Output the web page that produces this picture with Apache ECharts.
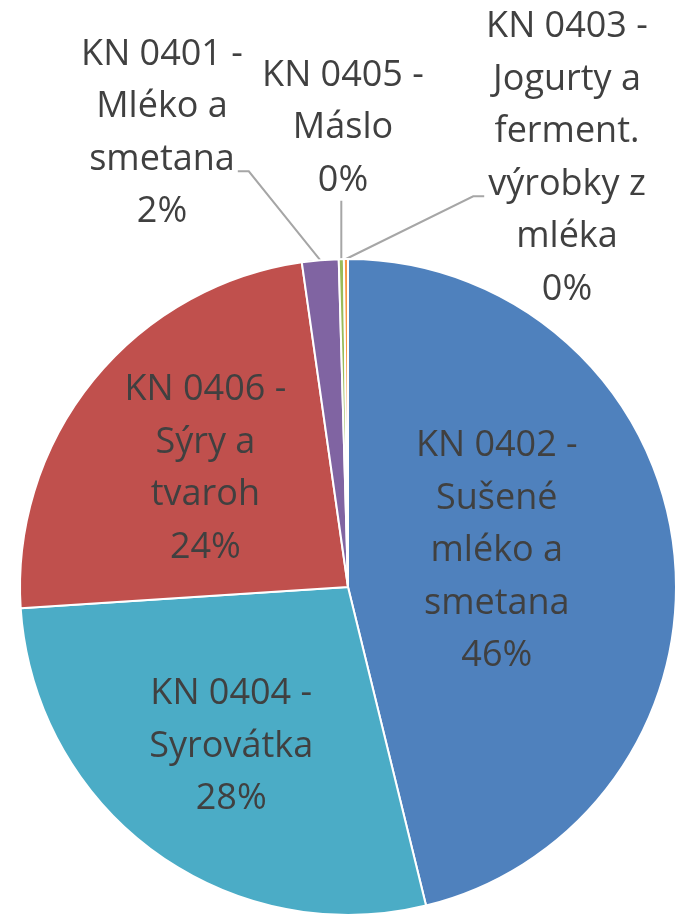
<!DOCTYPE html>
<html>
<head>
<meta charset="utf-8">
<script src="https://cdn.jsdelivr.net/npm/echarts@6/dist/echarts.min.js"></script>
<style>
html,body{margin:0;padding:0;background:#fff;}
#chart{width:676px;height:919px;}
</style>
</head>
<body>
<div id="chart"></div>
<script>
// Categories (as wrapped in the original chart), in drawing order (clockwise from 12 o'clock)
const categories = [
  "KN 0402 -\nSušené\nmléko a\nsmetana",
  "KN 0404 -\nSyrovátka",
  "KN 0406 -\nSýry a\ntvaroh",
  "KN 0401 -\nMléko a\nsmetana",
  "KN 0405 -\nMáslo",
  "KN 0403 -\nJogurty a\nferment.\nvýrobky z\nmléka"
];
// Share values (%)
const shares = [46.2, 27.8, 23.8, 1.8, 0.25, 0.2];
const colors = ["#4F81BD", "#4BACC6", "#C0504D", "#8064A2", "#9BBB59", "#F79646"];
const insideLabel = [true, true, true, false, false, false];

// label styling (not data)
const insideOffsets = [[-17, -16], [-18, 25], [-13, -13]];
const outsideLabelPos = {3: [162, 133], 4: [343, 128], 5: [567, 158]};
const LINE_H = 52.5;
const FONT_SIZE = 36;
const fontFamily = '"Open Sans", "Noto Sans", sans-serif';

const measureCtx = document.createElement('canvas').getContext('2d');
measureCtx.font = FONT_SIZE + 'px ' + fontFamily;
function textW(s) { return measureCtx.measureText(s).width; }

const chart = echarts.init(document.getElementById('chart'), null, {renderer: 'canvas'});

const data = categories.map((name, i) => ({
  name: name,
  value: shares[i],
  itemStyle: {color: colors[i]},
  label: insideLabel[i]
    ? {position: 'inside', offset: insideOffsets[i]}
    : {position: 'outside'},
  labelLine: {show: !insideLabel[i]}
}));

chart.setOption({
  animation: false,
  series: [{
    type: 'pie',
    center: [348, 587],
    radius: [0, 328],
    startAngle: 90,
    clockwise: true,
    avoidLabelOverlap: false,
    percentPrecision: 0,
    itemStyle: {borderColor: '#ffffff', borderWidth: 2},
    label: {
      show: true,
      formatter: '{b}\n{d}%',
      fontFamily: fontFamily,
      fontSize: FONT_SIZE,
      lineHeight: LINE_H,
      color: '#404040',
      align: 'center'
    },
    labelLine: {
      length: 20,
      length2: 10,
      lineStyle: {color: '#A6A6A6', width: 2}
    },
    labelLayout: function (params) {
      const idx = params.dataIndex;
      const p = outsideLabelPos[idx];
      if (!p) return {};
      const lines = (categories[idx] + '\n0%').split('\n');
      const top = p[1] - lines.length * LINE_H / 2;
      const bottom = p[1] + lines.length * LINE_H / 2;
      const anchor = params.labelLinePoints ? params.labelLinePoints[0] : null;
      const res = {x: p[0], y: p[1], align: 'center', verticalAlign: 'middle'};
      if (anchor) {
        if (idx === 3) {
          const k = 2;
          const ly = top + (k + 0.73) * LINE_H;
          const right = p[0] + textW(lines[k]) / 2 + 3;
          res.labelLinePoints = [anchor, [right + 11, ly], [right, ly]];
        } else if (idx === 4) {
          res.labelLinePoints = [anchor, [anchor[0], bottom - 6], [anchor[0], bottom - 6]];
        } else if (idx === 5) {
          const k = 3;
          const ly = top + (k + 0.73) * LINE_H;
          const left = p[0] - textW(lines[k]) / 2 - 4;
          res.labelLinePoints = [anchor, [left - 11, ly], [left, ly]];
        }
      }
      return res;
    },
    data: data
  }]
});
</script>
</body>
</html>
